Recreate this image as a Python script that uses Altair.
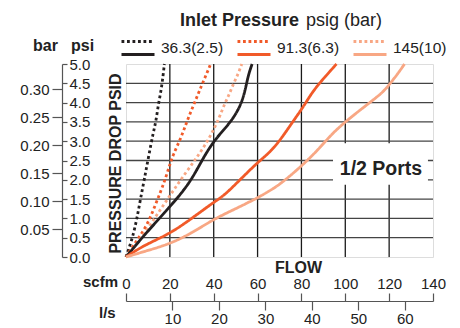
import altair as alt
import pandas as pd

# ---------------- data ----------------
pressures = ["36.3(2.5)", "91.3(6.3)", "145(10)"]
colors = ["#231f20", "#f15a29", "#f8a784"]

black_dot_scfm = [0, 1.2, 3.2, 5.0, 6.6, 8.4, 10.3, 12.4, 13.7, 14.8, 16.0, 17.0, 17.5]
black_dot_psi = [0, 0.2, 0.55, 1.0, 1.5, 2.03, 2.6, 3.22, 3.52, 3.98, 4.3, 4.74, 5.0]

orange_dot_scfm = [0, 1.2, 5.0, 9.6, 12.7, 15.7, 18.0, 20.0, 21.5, 25.2, 28.0, 31.3, 34.5, 36.8, 38.6]
orange_dot_psi = [0, 0.12, 0.43, 0.82, 1.25, 1.68, 2.03, 2.4, 2.65, 3.1, 3.55, 4.0, 4.45, 4.75, 5.0]

salmon_dot_scfm = [0, 5.0, 12.4, 20.0, 26.9, 33.0, 38.3, 42.5, 44.8, 47.0, 49.0, 51.2, 52.8]
salmon_dot_psi = [0, 0.33, 0.95, 1.59, 2.16, 2.63, 3.1, 3.6, 3.95, 4.2, 4.49, 4.75, 5.0]

black_sol_scfm = [0, 8, 20, 29, 35, 40, 45, 49, 52.5, 54.5, 55.7, 57.5]
black_sol_psi = [0, 0.55, 1.3, 1.9, 2.55, 3.0, 3.32, 3.6, 3.95, 4.35, 4.7, 5.0]

orange_sol_scfm = [0, 8, 20, 30, 40, 44.5, 52, 60, 65, 70, 76, 81, 85, 90, 96]
orange_sol_psi = [0, 0.3, 0.6, 1.0, 1.42, 1.58, 2.0, 2.45, 2.68, 3.0, 3.5, 3.9, 4.28, 4.62, 5.0]

salmon_sol_scfm = [0, 10, 20, 30, 40, 50, 60, 65, 70, 80, 88, 94, 101, 110, 117.5, 120.5, 124, 127]
salmon_sol_psi = [0, 0.17, 0.34, 0.62, 0.98, 1.25, 1.53, 1.7, 1.87, 2.35, 2.8, 3.2, 3.55, 3.95, 4.28, 4.5, 4.75, 5.0]

scfm_ticks = [0, 20, 40, 60, 80, 100, 120, 140]
ls_ticks = [10, 20, 30, 40, 50, 60]
psi_ticks = [0.0, 0.5, 1.0, 1.5, 2.0, 2.5, 3.0, 3.5, 4.0, 4.5, 5.0]
bar_ticks = [0.05, 0.10, 0.15, 0.20, 0.25, 0.30]
grid_scfm = [20, 40, 60, 80, 100, 120]
grid_psi = [0.5, 1.0, 1.5, 2.0, 2.5, 3.0, 3.5, 4.0, 4.5]

port_label = "1/2 Ports"
port_box_scfm = [94.4, 137.7]
port_box_psi = [1.87, 2.95]
port_text_pos = [116.3, 2.12]

SCFM_PER_LS = 2.11888
PSI_PER_BAR = 14.5038

FONT = "Liberation Sans"

# ---------------- tables ----------------
series = [
    (pressures[0], "dotted", black_dot_scfm, black_dot_psi),
    (pressures[1], "dotted", orange_dot_scfm, orange_dot_psi),
    (pressures[2], "dotted", salmon_dot_scfm, salmon_dot_psi),
    (pressures[0], "solid", black_sol_scfm, black_sol_psi),
    (pressures[1], "solid", orange_sol_scfm, orange_sol_psi),
    (pressures[2], "solid", salmon_sol_scfm, salmon_sol_psi),
]
rows = []
for p, kind, xs, ys in series:
    for x, y in zip(xs, ys):
        rows.append({"pressure": p, "kind": kind, "series": p + kind, "scfm": x, "psi": y})
lines_df = pd.DataFrame(rows)

vgrid_df = pd.DataFrame({"scfm": grid_scfm})
hgrid_df = pd.DataFrame({"psi": grid_psi})
box_df = pd.DataFrame({"scfm": [port_box_scfm[0]], "scfm2": [port_box_scfm[1]],
                       "psi": [port_box_psi[0]], "psi2": [port_box_psi[1]]})
port_df = pd.DataFrame({"scfm": [port_text_pos[0]], "psi": [port_text_pos[1]], "t": [port_label]})
hidden_df = pd.DataFrame({"ls": [0, 140 / SCFM_PER_LS], "bar": [0, 5 / PSI_PER_BAR]})
one_df = pd.DataFrame({"a": [0]})

# ---------------- scales & axes ----------------
xscale = alt.Scale(domain=[0, 140], nice=False, zero=True)
yscale = alt.Scale(domain=[0, 5], nice=False, zero=True)

xaxis = alt.Axis(orient="top", offset=-237, values=scfm_ticks, tickSize=8, tickWidth=1.2,
                 tickColor="#555", domainColor="#555", domainWidth=1.2,
                 labelFontSize=15, labelPadding=2, labelColor="#222", labelFlush=False,
                 labelFont=FONT, grid=False,
                 title="FLOW", titleFontSize=16, titleFontWeight="bold", titleColor="#222",
                 titleFont=FONT, titleX=172, titleY=-29, titleBaseline="alphabetic",
                 titleAlign="center")
yaxis = alt.Axis(orient="right", offset=-371, values=psi_ticks, format=".1f", tickSize=5,
                 tickWidth=1.2, tickColor="#555", domainColor="#555", domainWidth=1.2,
                 labelAlign="left", labelBaseline="middle", labelPadding=2, labelFontSize=15,
                 labelColor="#222", labelFont=FONT, grid=False,
                 title="PRESSURE DROP PSID", titleAngle=270, titleX=53, titleY=99,
                 titleAlign="center", titleBaseline="middle", titleFontSize=16,
                 titleFontWeight="bold", titleColor="#222", titleFont=FONT)

X = lambda f="scfm": alt.X(f"{f}:Q", scale=xscale, axis=xaxis)
Y = lambda f="psi": alt.Y(f"{f}:Q", scale=yscale, axis=yaxis)

vgrid = alt.Chart(vgrid_df).mark_rule(color="#1a1a1a", strokeWidth=1.3).encode(x=X())
hgrid = alt.Chart(hgrid_df).mark_rule(color="#444", strokeWidth=1.3).encode(y=Y())
box = alt.Chart(box_df).mark_rect(color="white").encode(
    x=X(), x2="scfm2:Q", y=Y(), y2="psi2:Q")
port_text = alt.Chart(port_df).mark_text(
    fontSize=19.5, fontWeight="bold", font=FONT, color="#222", align="center",
    baseline="alphabetic").encode(x=X(), y=Y(), text="t:N")

# legend symbol: dotted stroke on top, solid stroke below
dots = "".join(f"M{-1 + i * 0.333:.3f},-0.36H{-1 + i * 0.333 + 0.17:.3f}" for i in range(6))
symbol_path = dots + "M-1,0.42H1"

lines = alt.Chart(lines_df).mark_line(strokeWidth=2.8, interpolate="basis").encode(
    x=X(), y=Y(),
    color=alt.Color("pressure:N", scale=alt.Scale(domain=pressures, range=colors),
                    legend=alt.Legend(orient="none", legendX=-6, legendY=-34.5,
                                      direction="horizontal", title=None,
                                      symbolType=symbol_path, symbolSize=1089,
                                      symbolStrokeWidth=3, labelFontSize=15.5,
                                      labelFont=FONT, labelColor="#222", labelOffset=5,
                                      columnPadding=7, padding=0)),
    strokeDash=alt.StrokeDash("kind:N", scale=alt.Scale(domain=["dotted", "solid"],
                                                         range=[[2.8, 2.8], [1, 0]]),
                              legend=None),
    detail="series:N",
)


def label(txt, x, y, size, weight="bold", align="left"):
    return alt.Chart(one_df).mark_text(text=txt, fontSize=size, fontWeight=weight, font=FONT,
                                       color="#222", align=align,
                                       baseline="alphabetic").encode(
        x=alt.value(x), y=alt.value(y))


texts = [
    label("Inlet Pressure", 54, -38, 18),
    label("psig (bar)", 180, -38, 18, weight="normal"),
    label("bar", -93, -13, 16),
    label("psi", -55, -13, 16),
    label("scfm", -43, 223, 15),
    label("l/s", -27, 254, 15),
]

inner = alt.layer(vgrid, hgrid, box, lines, port_text, *texts)

hidden = alt.Chart(hidden_df).mark_point(opacity=0).encode(
    x=alt.X("ls:Q", scale=alt.Scale(domain=[0, 140 / SCFM_PER_LS], nice=False),
            axis=alt.Axis(orient="bottom", offset=44, values=ls_ticks, tickSize=9,
                          tickWidth=1.2, tickColor="#555", domain=False, labelPadding=1,
                          labelFontSize=15, labelColor="#222", labelFont=FONT,
                          labelFlush=False, grid=False, title=None)),
    y=alt.Y("bar:Q", scale=alt.Scale(domain=[0, 5 / PSI_PER_BAR], nice=False),
            axis=alt.Axis(orient="left", offset=64, values=bar_ticks, format=".2f",
                          tickSize=10, tickWidth=1.2, tickColor="#555", domain=False,
                          labelPadding=3, labelFontSize=15, labelColor="#222",
                          labelFont=FONT, grid=False, title=None)),
)

chart = alt.layer(inner, hidden).resolve_scale(x="independent", y="independent").properties(
    width=307, height=193,
    padding={"left": 118, "top": 56, "right": 19, "bottom": 71},
    autosize=alt.AutoSizeParams(type="none"),
).configure_view(stroke="#222", strokeWidth=2.5).configure(font=FONT)

chart.save("out.html", embed_options={"renderer": "svg", "actions": False})
